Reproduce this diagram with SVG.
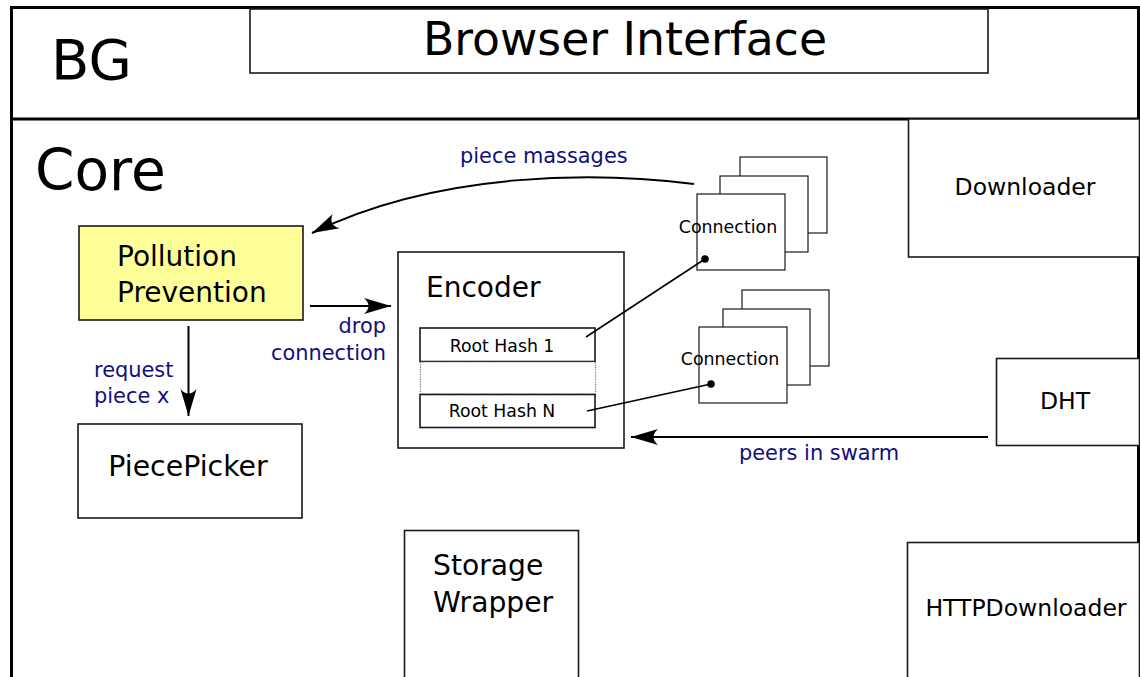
<svg xmlns="http://www.w3.org/2000/svg" width="1140" height="677" viewBox="0 0 1140 677">
  <style>
    text { font-family: "DejaVu Sans", "Bitstream Vera Sans", sans-serif; fill: #000; }
    .box { fill: #fff; stroke: #1a1a1a; stroke-width: 1.6; }
    .thin { fill: #fff; stroke: #1a1a1a; stroke-width: 1.2; }
    .frame { fill: none; stroke: #000; stroke-width: 3; }
    .label { fill: #10107a; font-size: 20.9px; }
    .conn { fill: none; stroke: #000; stroke-width: 2; }
    .wire { fill: none; stroke: #000; stroke-width: 1.6; }
  </style>
  <defs>
    <marker id="arrow" markerUnits="userSpaceOnUse" markerWidth="32" markerHeight="20" viewBox="-28 -10 32 20" refX="0" refY="0" orient="auto">
      <path d="M0,0 L-27,-8 C-21,-3 -21,3 -27,8 Z" fill="#000"/>
    </marker>
  </defs>

  <rect width="1140" height="677" fill="#fff"/>

  <!-- outer BG frame with the Core area below the divider -->
  <g id="bg-frame">
    <path class="frame" d="M11.5,677 L11.5,7.5 L1138.5,7.5 L1138.5,677"/>
    <line x1="11.5" y1="119" x2="1138.5" y2="119" stroke="#000" stroke-width="3"/>
    <text x="51" y="79" font-size="56">BG</text>
    <text x="35" y="190" font-size="56.5">Core</text>
  </g>

  <g id="browser-interface">
    <rect class="box" x="250" y="9" width="738" height="64" stroke-width="2"/>
    <text x="625" y="55" font-size="45.7" text-anchor="middle">Browser Interface</text>
  </g>

  <g id="downloader">
    <rect class="box" x="908.5" y="119" width="231" height="138" stroke-width="2"/>
    <text x="1025" y="195" font-size="23.5" text-anchor="middle">Downloader</text>
  </g>

  <g id="dht">
    <rect class="box" x="996.5" y="358.5" width="143" height="87"/>
    <text x="1065" y="409" font-size="23.5" text-anchor="middle">DHT</text>
  </g>

  <g id="http-downloader">
    <rect class="box" x="907.5" y="542.5" width="232" height="140"/>
    <text x="1026" y="616" font-size="23.5" text-anchor="middle">HTTPDownloader</text>
  </g>

  <g id="storage-wrapper">
    <rect class="box" x="404.5" y="530.5" width="174" height="150"/>
    <text x="433" y="575" font-size="28.2">Storage</text>
    <text x="433" y="612" font-size="28.2">Wrapper</text>
  </g>

  <g id="pollution-prevention">
    <rect x="79" y="226" width="224" height="94" fill="#ffff99" stroke="#1a1a1a" stroke-width="1.6"/>
    <text x="117" y="266" font-size="28">Pollution</text>
    <text x="117" y="302" font-size="28">Prevention</text>
  </g>

  <g id="piece-picker">
    <rect class="box" x="78" y="424" width="224" height="94"/>
    <text x="188" y="476" font-size="28.4" text-anchor="middle">PiecePicker</text>
  </g>

  <g id="encoder">
    <rect class="box" x="398" y="252" width="226" height="196" stroke-width="2.2"/>
    <text x="426" y="297" font-size="28">Encoder</text>
    <rect class="box" x="420" y="328" width="175" height="33.5" stroke-width="1.4"/>
    <text x="502" y="352" font-size="17.3" text-anchor="middle">Root Hash 1</text>
    <rect x="420.5" y="362" width="175" height="32" fill="#fff" stroke="#777" stroke-width="1.2" stroke-dasharray="1.2 1.2"/>
    <rect class="box" x="420" y="394.5" width="175" height="33" stroke-width="1.4"/>
    <text x="502" y="417" font-size="17.3" text-anchor="middle">Root Hash N</text>
  </g>

  <g id="connections-1">
    <rect class="thin" x="740" y="157" width="87" height="76"/>
    <rect class="thin" x="720" y="176" width="88" height="76"/>
    <rect class="thin" x="697" y="194" width="88" height="76"/>
    <text x="728" y="233" font-size="17.4" text-anchor="middle">Connection</text>
  </g>

  <g id="connections-2">
    <rect class="thin" x="742" y="290" width="87" height="76"/>
    <rect class="thin" x="723" y="309" width="87" height="76"/>
    <rect class="thin" x="699" y="327" width="88" height="76"/>
    <text x="730" y="365" font-size="17.4" text-anchor="middle">Connection</text>
  </g>

  <g id="connectors">
    <!-- piece messages back to pollution prevention -->
    <path class="conn" d="M694,184 C600,172 440,170 312,233" marker-end="url(#arrow)"/>
    <text class="label" x="460" y="163">piece massages</text>

    <!-- drop connection -->
    <line class="conn" x1="310" y1="306" x2="391" y2="306" marker-end="url(#arrow)"/>
    <text class="label" x="386" y="333" text-anchor="end">drop</text>
    <text class="label" x="386" y="360" text-anchor="end">connection</text>

    <!-- request piece x -->
    <line class="conn" x1="188.5" y1="326" x2="188.5" y2="416" marker-end="url(#arrow)"/>
    <text class="label" x="94" y="377">request</text>
    <text class="label" x="94" y="403">piece x</text>

    <!-- peers in swarm from DHT -->
    <line class="conn" x1="988" y1="437" x2="631" y2="437" marker-end="url(#arrow)"/>
    <text class="label" x="739" y="460">peers in swarm</text>

    <!-- root hashes bound to connections -->
    <line class="wire" x1="586" y1="337" x2="705" y2="259"/>
    <circle cx="705" cy="259" r="3.8" fill="#000"/>
    <line class="wire" x1="587" y1="411" x2="711" y2="384"/>
    <circle cx="711" cy="384" r="3.8" fill="#000"/>
  </g>
</svg>
